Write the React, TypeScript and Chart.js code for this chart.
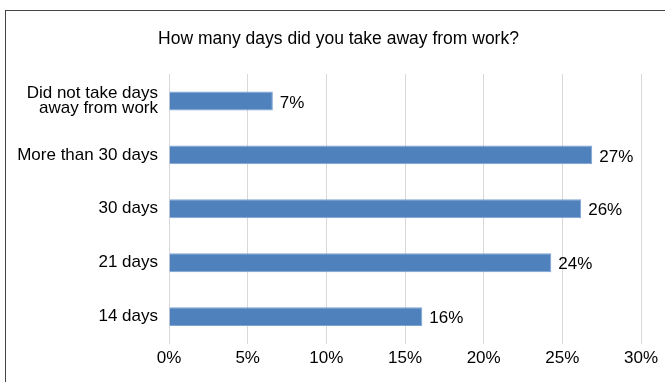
import React, { useEffect, useRef } from "react";
import { Chart, registerables } from "chart.js";

Chart.register(...registerables);

const TITLE = "How many days did you take away from work?";
const categories: (string | string[])[] = [
  ["Did not take days", "away from work"],
  "More than 30 days",
  "30 days",
  "21 days",
  "14 days",
];
const values = [6.6, 26.9, 26.2, 24.3, 16.1];
const valueLabels = ["7%", "27%", "26%", "24%", "16%"];
const xTicks = [0, 5, 10, 15, 20, 25, 30];

const FONT = "'Liberation Sans', Arial, sans-serif";

const labelPlugin = {
  id: "barLabels",
  afterDatasetsDraw(chart: any) {
    const ctx = chart.ctx;
    const meta = chart.getDatasetMeta(0);
    ctx.save();
    ctx.font = `17px ${FONT}`;
    ctx.fillStyle = "#000";
    ctx.textAlign = "left";
    ctx.textBaseline = "middle";
    meta.data.forEach((bar: any, i: number) => {
      ctx.fillText(valueLabels[i], bar.x + 7, bar.y + 2);
    });
    ctx.restore();
  },
};

export default function App() {
  const ref = useRef<HTMLCanvasElement>(null);
  useEffect(() => {
    if (!ref.current) return;
    const chart = new Chart(ref.current, {
      type: "bar",
      data: {
        labels: categories,
        datasets: [
          {
            data: values,
            backgroundColor: "#4f81bd",
            borderColor: "#7ea3d2",
            borderWidth: 1,
            categoryPercentage: 1,
            barPercentage: 0.35,
          },
        ],
      },
      options: {
        indexAxis: "y",
        responsive: false,
        maintainAspectRatio: false,
        animation: false,
        layout: { padding: { left: 0, right: 24, top: 74, bottom: 8 } },
        plugins: {
          legend: { display: false },
          tooltip: { enabled: false },
          title: { display: false },
        },
        scales: {
          x: {
            min: 0,
            max: 30,
            afterBuildTicks: (scale: any) => {
              scale.ticks = xTicks.map((v) => ({ value: v }));
            },
            ticks: {
              callback: (v: any) => `${v}%`,
              color: "#000",
              font: { family: FONT, size: 17 },
              padding: 5,
              maxRotation: 0,
            },
            grid: { color: "#d9d9d9", lineWidth: 1, drawTicks: false },
            border: { display: false },
          },
          y: {
            afterFit: (scale: any) => {
              scale.width = 169;
            },
            ticks: {
              color: "#000",
              font: { family: FONT, size: 17, lineHeight: 0.85 },
              padding: 11,
            },
            grid: { display: false, drawTicks: false },
            border: { display: false },
          },
        },
      },
      plugins: [labelPlugin],
    } as any);
    return () => chart.destroy();
  }, []);

  return (
    <div
      style={{
        position: "fixed",
        left: 0,
        top: 0,
        width: 665,
        height: 382,
        overflow: "hidden",
        background: "#fff",
      }}
    >
      <div
        style={{
          position: "absolute",
          left: 5,
          top: 10,
          width: 700,
          height: 400,
          borderLeft: "1.5px solid #444",
          borderTop: "1.5px solid #444",
        }}
      />
      <canvas
        ref={ref}
        width={665}
        height={382}
        style={{ position: "absolute", left: 0, top: 0, width: 665, height: 382 }}
      />
      <div
        style={{
          position: "absolute",
          left: 0,
          top: 27,
          width: 677,
          textAlign: "center",
          fontFamily: FONT,
          fontSize: 17.5,
          lineHeight: "22px",
          color: "#000",
          whiteSpace: "nowrap",
        }}
      >
        {TITLE}
      </div>
    </div>
  );
}
